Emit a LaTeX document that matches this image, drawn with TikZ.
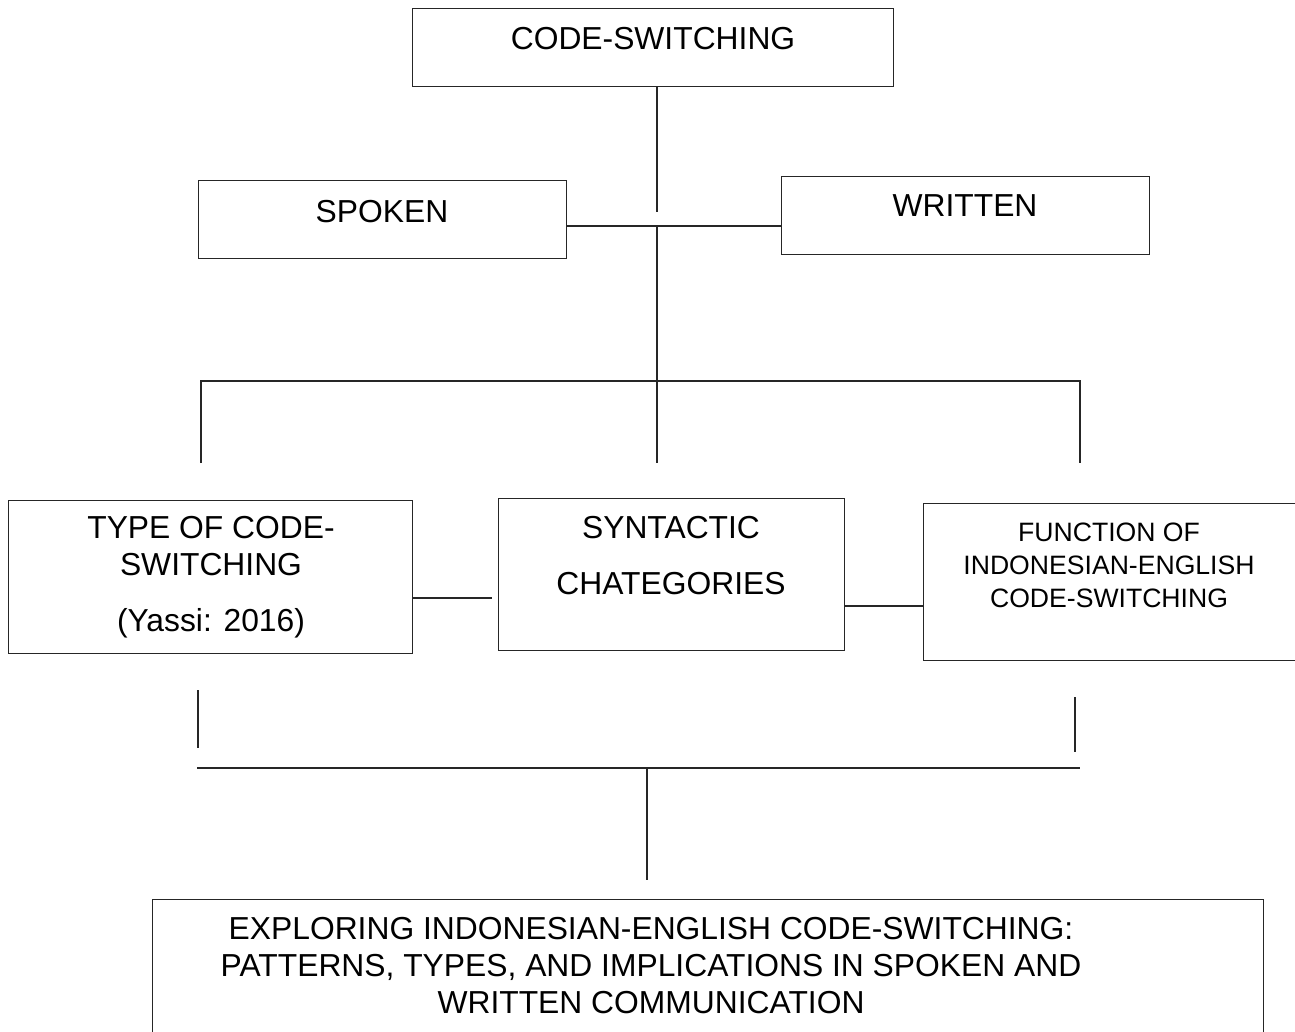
\documentclass[tikz,border=0pt]{standalone}
\usepackage{fontspec}
\setmainfont{Liberation Sans}
\begin{document}
\begin{tikzpicture}[x=1pt,y=-1pt,
  box/.style={draw=black!85,line width=1.3pt,anchor=north west,inner sep=0pt},
  lbl/.style={font=\fontsize{31.8}{37}\selectfont,inner sep=0pt,align=center,anchor=center},
  sml/.style={font=\fontsize{26.6}{33}\selectfont,inner sep=0pt,align=center,anchor=center},
  conn/.style={draw=black!85,line width=1.3pt}]
\useasboundingbox (0,0) rectangle (1295,1032);
\clip (0,0) rectangle (1295,1032);
% boxes
\node[box,minimum width=481pt,minimum height=78pt] (top) at (412,8) {};
\node[box,minimum width=368pt,minimum height=78pt] (spk) at (198,180) {};
\node[box,minimum width=368pt,minimum height=78pt] (wrt) at (781,176) {};
\node[box,minimum width=404pt,minimum height=153pt] (typ) at (8,500) {};
\node[box,minimum width=346pt,minimum height=152pt] (syn) at (498,498) {};
\node[box,minimum width=380pt,minimum height=157pt] (fun) at (923,503) {};
\node[box,minimum width=1111pt,minimum height=150pt] (fin) at (152,899) {};
% texts
\node[lbl] (ttop) at (653,39) {CODE-SWITCHING};
\node[lbl] (tspk) at (382,212) {SPOKEN};
\node[lbl] (twrt) at (965,206) {WRITTEN};
\node[lbl] (ttyp) at (211,546) {TYPE OF CODE-\\SWITCHING};
\node[lbl] (tyas) at (211,623) {(Yassi: 2016)};
\node[lbl] (tsyn) at (671,528) {SYNTACTIC};
\node[lbl] (tcha) at (671,584) {CHATEGORIES};
\node[sml] (tfun) at (1109,565) {FUNCTION OF\\INDONESIAN-ENGLISH\\CODE-SWITCHING};
\node[lbl] (tfin) at (651,966) {EXPLORING INDONESIAN-ENGLISH CODE-SWITCHING:\\PATTERNS, TYPES, AND IMPLICATIONS IN SPOKEN AND\\WRITTEN COMMUNICATION};
% coordinates
\coordinate (a1) at (657,212);
\coordinate (a2) at (657,226);
\coordinate (a3) at (657,381);
\coordinate (hl) at (201,381);
\coordinate (hr) at (1080,381);
\coordinate (vl) at (201,463);
\coordinate (vm) at (657,463);
\coordinate (vr) at (1080,463);
\coordinate (s1) at (492,598);
\coordinate (b1) at (198,690);
\coordinate (b2) at (198,748);
\coordinate (b3) at (1075,697);
\coordinate (b4) at (1075,752);
\coordinate (h2l) at (197,768);
\coordinate (h2r) at (1080,768);
\coordinate (h2m) at (647,768);
\coordinate (h2b) at (647,880);
% connectors
\draw[conn] (top.south -| a1) -- (a1);
\draw[conn] (spk.east |- a2) -- (wrt.west |- a2);
\draw[conn] (a2) -- (a3);
\draw[conn] (vl) -- (hl) -- (hr) -- (vr);
\draw[conn] (a3) -- (vm);
\draw[conn] (typ.east |- s1) -- (s1);
\draw[conn] (syn.east |- 0,606) -- (fun.west |- 0,606);
\draw[conn] (b1) -- (b2);
\draw[conn] (b3) -- (b4);
\draw[conn] (h2l) -- (h2r);
\draw[conn] (h2m) -- (h2b);
\end{tikzpicture}
\end{document}
